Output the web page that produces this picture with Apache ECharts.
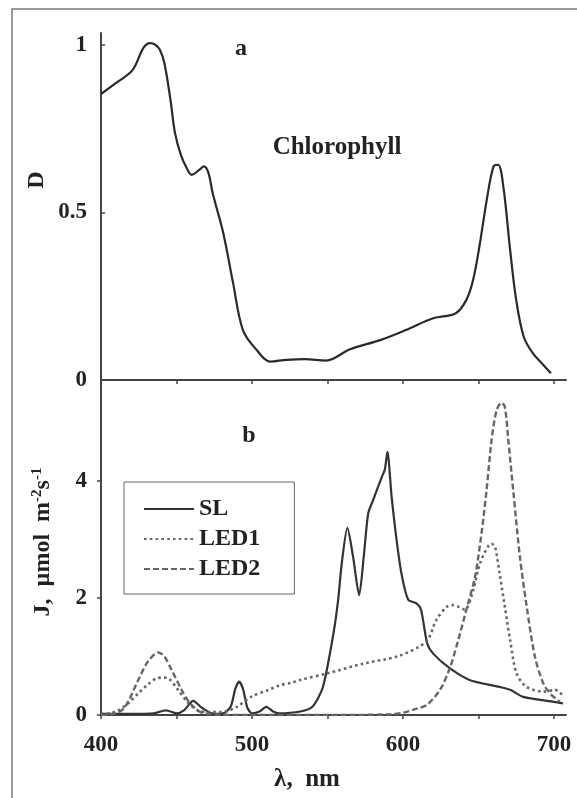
<!DOCTYPE html>
<html>
<head>
<meta charset="utf-8">
<script src="https://cdn.jsdelivr.net/npm/echarts@6/dist/echarts.min.js"></script>
<style>html,body{margin:0;padding:0;background:#fff;}#c{width:577px;height:798px;}</style>
</head>
<body>
<div id="c"></div>
<script>
// Panel a: chlorophyll absorption
var chlWl = [400, 410, 421, 428, 432.5, 436, 439, 442, 446, 449, 453, 457, 460, 465.5, 468, 471, 474, 481, 487.5, 494, 503, 512, 523, 535, 549, 565, 585, 602, 620, 635, 642, 646.5, 651, 655.5, 660, 663, 666.5, 671, 675, 680, 686, 693, 698];
var chlD  = [0.853, 0.886, 0.925, 0.99, 1.005, 1.0, 0.985, 0.945, 0.836, 0.737, 0.67, 0.63, 0.612, 0.628, 0.637, 0.62, 0.557, 0.438, 0.289, 0.149, 0.09, 0.055, 0.06, 0.062, 0.058, 0.092, 0.119, 0.149, 0.184, 0.199, 0.239, 0.299, 0.408, 0.537, 0.637, 0.642, 0.577, 0.388, 0.239, 0.129, 0.08, 0.045, 0.02];

// Panel b: spectra
var slWl = [400, 420, 435, 443, 450, 455, 461, 467, 475, 482, 486, 489, 491.5, 494, 497, 500, 505, 509.5, 514, 518, 532, 540, 547, 554, 557, 559.5, 563.2, 567, 571, 574, 577, 580.3, 586, 588, 589.7, 592.5, 595.8, 599, 603.5, 609, 612, 616, 620, 631, 644, 664, 671, 679.7, 699, 706];
var slJ  = [0.02, 0.02, 0.03, 0.08, 0.03, 0.08, 0.24, 0.12, 0.02, 0.04, 0.15, 0.45, 0.57, 0.45, 0.12, 0.03, 0.06, 0.14, 0.06, 0.03, 0.06, 0.14, 0.48, 1.4, 1.95, 2.6, 3.2, 2.7, 2.05, 2.7, 3.45, 3.68, 4.07, 4.2, 4.5, 3.73, 2.99, 2.42, 1.97, 1.91, 1.8, 1.23, 1.05, 0.8, 0.6, 0.48, 0.43, 0.31, 0.23, 0.2];

var led1Wl = [400, 406, 411.5, 418, 424.7, 431, 437, 441, 445, 451, 457, 464, 470, 480, 490, 500, 511, 518.5, 526, 532, 549.5, 574, 596, 611, 617, 622, 629, 633, 637, 641, 646.6, 651, 658.7, 661, 664, 667.5, 671, 675.3, 682, 693, 700.7, 706];
var led1J  = [0.02, 0.03, 0.08, 0.2, 0.37, 0.52, 0.63, 0.64, 0.62, 0.43, 0.23, 0.08, 0.05, 0.05, 0.14, 0.32, 0.43, 0.51, 0.55, 0.6, 0.71, 0.88, 1.0, 1.17, 1.31, 1.62, 1.85, 1.88, 1.85, 1.8, 2.14, 2.59, 2.93, 2.88, 2.42, 1.85, 1.28, 0.71, 0.48, 0.4, 0.43, 0.33];

var led2Wl = [400, 410, 416, 424.7, 431, 438, 442, 446.8, 453.4, 459, 466, 475, 500, 550, 590, 600, 608, 615.7, 624.5, 631, 636.6, 642, 647.7, 652, 655.4, 658.7, 662, 665.3, 667.5, 669.8, 673, 677.5, 682, 687.4, 693, 698.5, 704];
var led2J  = [0.0, 0.03, 0.14, 0.6, 0.91, 1.07, 1.0, 0.77, 0.43, 0.2, 0.05, 0.01, 0.0, 0.0, 0.01, 0.04, 0.1, 0.17, 0.43, 0.8, 1.28, 1.8, 2.36, 3.1, 3.85, 4.7, 5.21, 5.34, 5.27, 4.7, 3.85, 2.7, 1.85, 1.0, 0.54, 0.34, 0.23];

var xTicks = [400, 450, 500, 550, 600, 650, 700];
var xLabels = [400, 500, 600, 700];
var dTicks = [0, 0.5, 1];
var jTicks = [0, 2, 4];

function zip(a, b) { return a.map(function (v, i) { return [v, b[i]]; }); }

var FF = 'Liberation Serif';
var axisColor = '#444';
var txt = { fontFamily: FF, fontWeight: 'bold', fontSize: 23, color: '#222' };
var legTxt = { fontFamily: FF, fontWeight: 'bold', fontSize: 24, color: '#222' };

var chart = echarts.init(document.getElementById('c'), null, { renderer: 'canvas' });
chart.setOption({
  animation: false,
  backgroundColor: '#fff',
  grid: [
    { left: 101, top: 33, width: 465, height: 347, containLabel: false, outerBoundsMode: 'none' },
    { left: 101, top: 380, width: 465, height: 335, containLabel: false, outerBoundsMode: 'none' }
  ],
  xAxis: [
    { type: 'value', gridIndex: 0, min: 400, max: 708, interval: 50,
      axisLine: { lineStyle: { color: axisColor, width: 2 } },
      axisTick: { show: true, length: 4, customValues: xTicks, lineStyle: { color: axisColor, width: 1.5 } },
      axisLabel: { show: false }, splitLine: { show: false } },
    { type: 'value', gridIndex: 1, min: 400, max: 708, interval: 50,
      axisLine: { lineStyle: { color: axisColor, width: 2 } },
      axisTick: { show: true, length: 4, customValues: xTicks, lineStyle: { color: axisColor, width: 1.5 } },
      axisLabel: Object.assign({ margin: 19, customValues: xLabels }, txt), splitLine: { show: false } }
  ],
  yAxis: [
    { type: 'value', gridIndex: 0, min: 0, max: 1.035, interval: 0.5,
      axisLine: { show: true, lineStyle: { color: axisColor, width: 2 } },
      axisTick: { show: true, inside: true, length: 4, customValues: dTicks, lineStyle: { color: axisColor, width: 1.5 } },
      axisLabel: Object.assign({ margin: 14, customValues: dTicks }, txt), splitLine: { show: false } },
    { type: 'value', gridIndex: 1, min: 0, max: 5.73, interval: 2,
      axisLine: { show: true, lineStyle: { color: axisColor, width: 2 } },
      axisTick: { show: true, inside: false, length: 4, customValues: jTicks, lineStyle: { color: axisColor, width: 1.5 } },
      axisLabel: Object.assign({ margin: 14, customValues: jTicks }, txt), splitLine: { show: false } }
  ],
  legend: {
    data: ['SL', 'LED1', 'LED2'],
    orient: 'vertical', left: 124, top: 482,
    borderColor: '#666', borderWidth: 1,
    padding: [15, 34, 13, 19],
    itemWidth: 50, itemHeight: 14, itemGap: 6,
    itemStyle: { opacity: 0 },
    textStyle: legTxt
  },
  series: [
    { name: 'Chlorophyll', type: 'line', xAxisIndex: 0, yAxisIndex: 0, data: zip(chlWl, chlD),
      smooth: 0.35, symbol: 'none', lineStyle: { color: '#2a2a2a', width: 2.2 }, itemStyle: { color: '#2a2a2a' } },
    { name: 'SL', type: 'line', xAxisIndex: 1, yAxisIndex: 1, data: zip(slWl, slJ),
      smooth: 0.25, symbol: 'none', lineStyle: { color: '#333', width: 2.2 }, itemStyle: { color: '#333' } },
    { name: 'LED1', type: 'line', xAxisIndex: 1, yAxisIndex: 1, data: zip(led1Wl, led1J),
      smooth: 0.3, symbol: 'none', lineStyle: { color: '#666', width: 2.6, type: [2.6, 3.2] }, itemStyle: { color: '#666' } },
    { name: 'LED2', type: 'line', xAxisIndex: 1, yAxisIndex: 1, data: zip(led2Wl, led2J),
      smooth: 0.3, symbol: 'none', lineStyle: { color: '#666', width: 2.4, type: [6, 3] }, itemStyle: { color: '#666' } }
  ],
  graphic: [
    { type: 'rect', shape: { x: 12, y: 9, width: 620, height: 820 }, style: { fill: 'none', stroke: '#999', lineWidth: 2 }, silent: true, z: -1 },
    { type: 'text', x: 241, y: 49, style: { text: 'a', font: 'bold 24px "Liberation Serif"', fill: '#222', align: 'center', verticalAlign: 'middle' } },
    { type: 'text', x: 249, y: 436, style: { text: 'b', font: 'bold 24px "Liberation Serif"', fill: '#222', align: 'center', verticalAlign: 'middle' } },
    { type: 'text', x: 337, y: 148, style: { text: 'Chlorophyll', font: 'bold 25px "Liberation Serif"', fill: '#222', align: 'center', verticalAlign: 'middle' } },
    { type: 'text', x: 307, y: 780, style: { text: 'λ,  nm', font: 'bold 25px "Liberation Serif"', fill: '#222', align: 'center', verticalAlign: 'middle' } },
    { type: 'text', x: 37, y: 180, rotation: Math.PI / 2, style: { text: 'D', font: 'bold 24px "Liberation Serif"', fill: '#222', align: 'center', verticalAlign: 'middle' } },
    { type: 'text', x: 43, y: 542, rotation: Math.PI / 2,
      style: { text: '{t|J,}{g| }{t|µmol}{g| }{t|m}{sup|-2}{t|s}{sup|-1}', fill: '#222', align: 'center', verticalAlign: 'middle',
        rich: {
          t: { fontFamily: FF, fontWeight: 'bold', fontSize: 24, fill: '#222', lineHeight: 26 },
          g: { fontFamily: FF, fontWeight: 'bold', fontSize: 24, width: 12, lineHeight: 26 },
          sup: { fontFamily: FF, fontWeight: 'bold', fontSize: 15, fill: '#222', verticalAlign: 'top', lineHeight: 26 }
        } } }
  ]
});
</script>
</body>
</html>
